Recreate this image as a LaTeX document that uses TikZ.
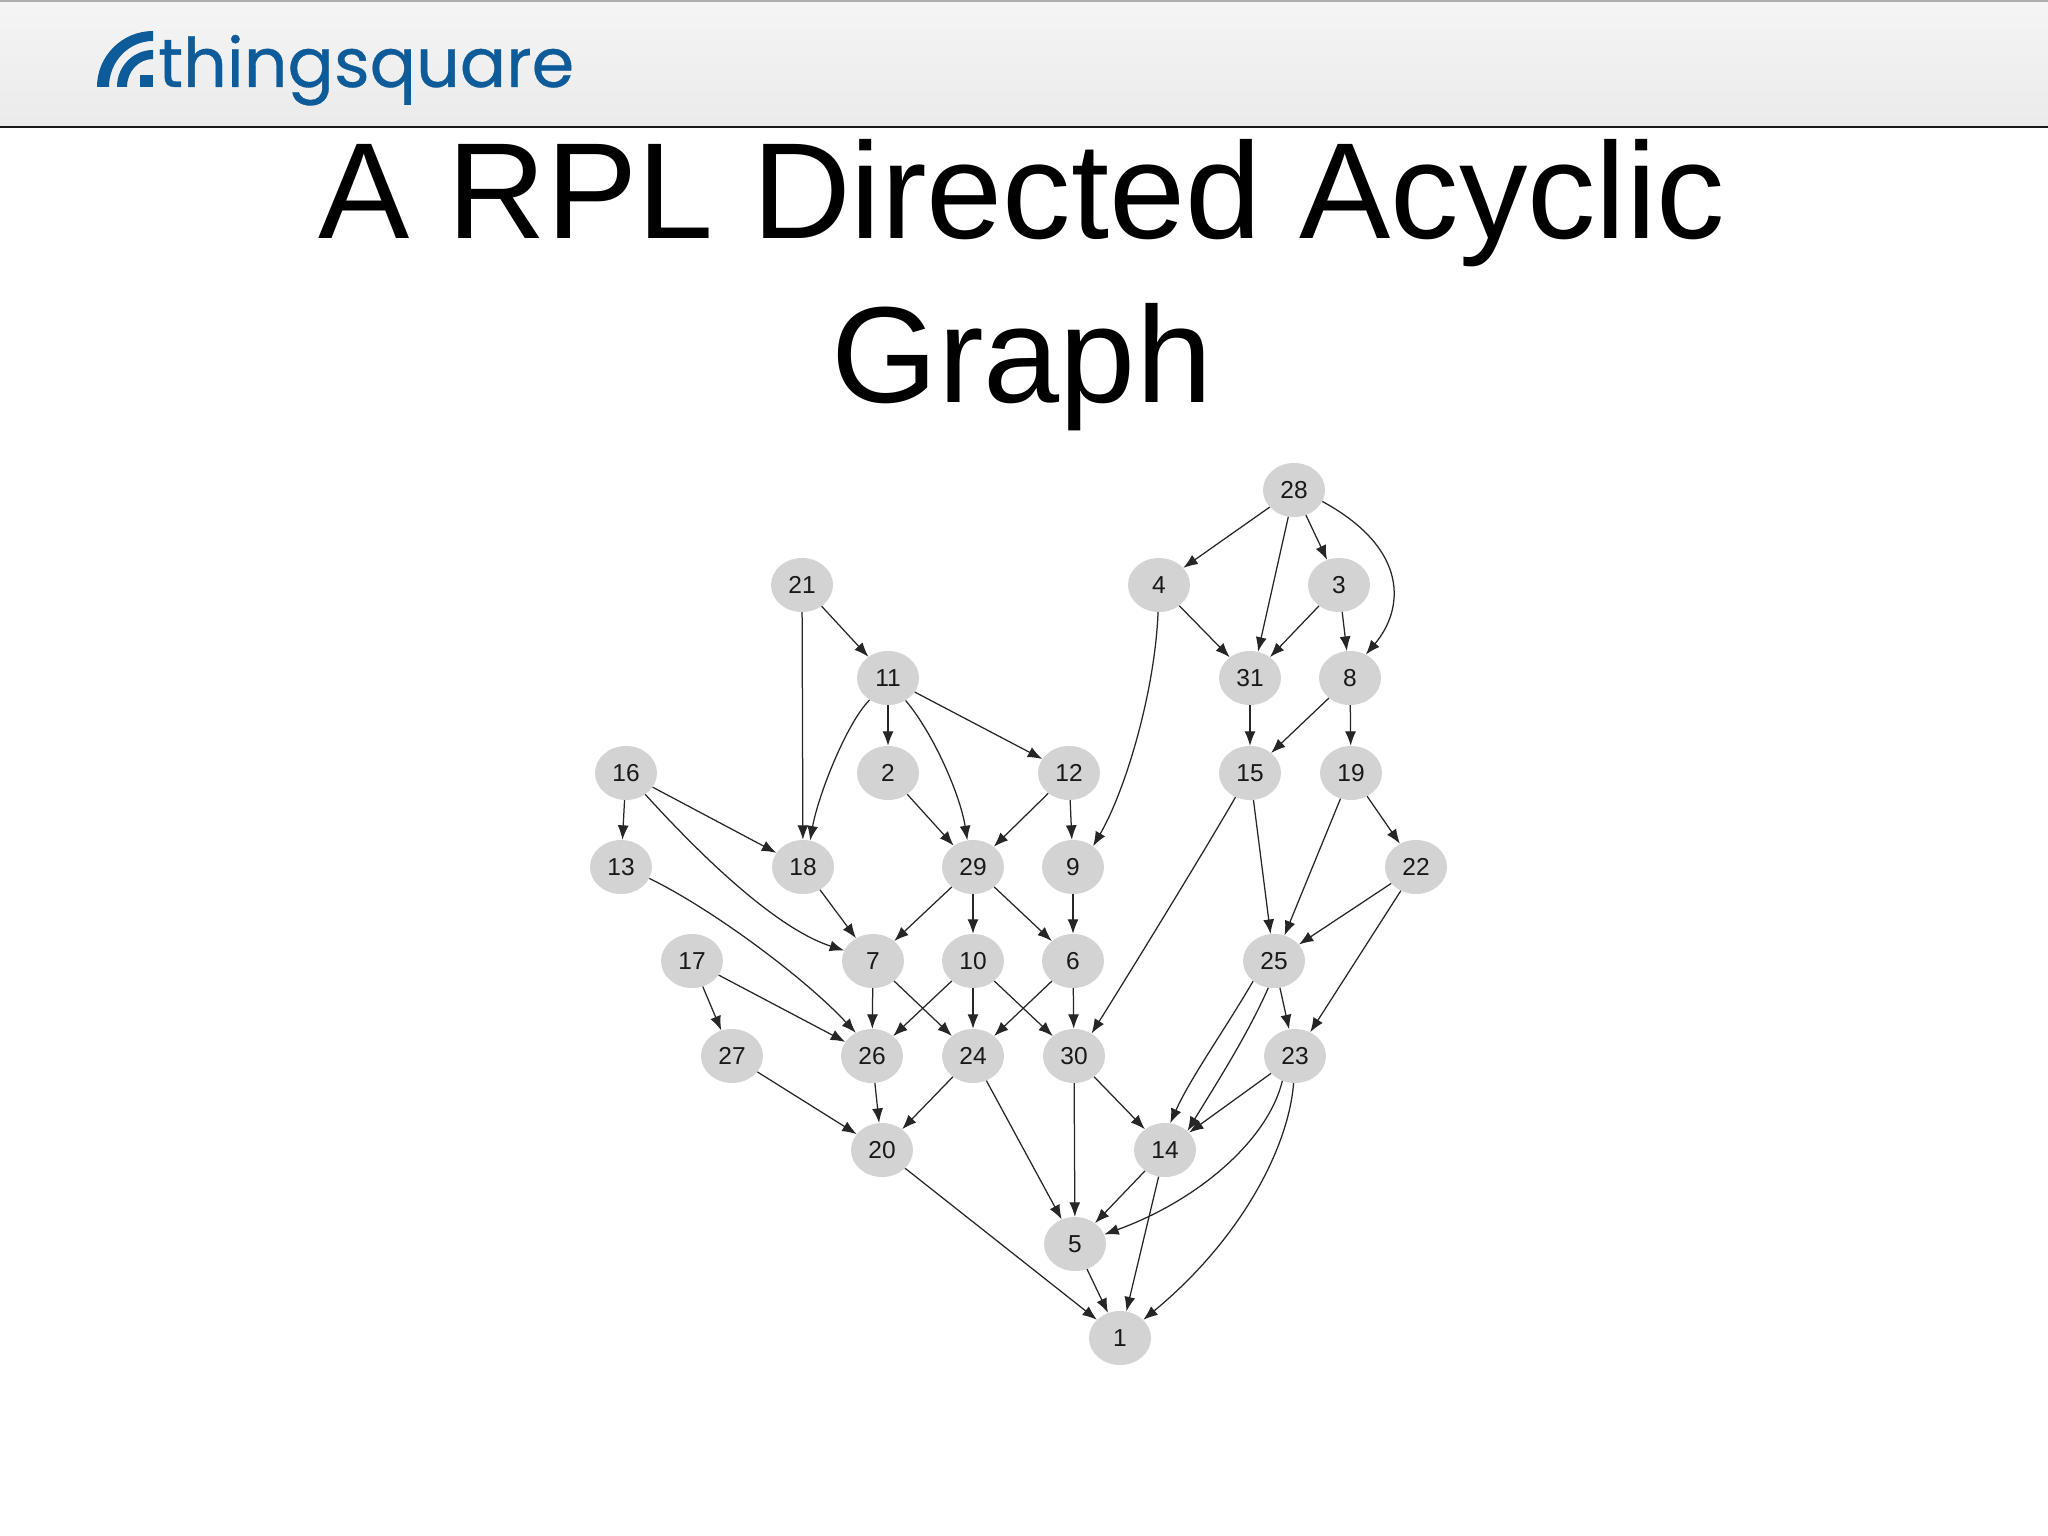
\documentclass[tikz,border=0pt]{standalone}
\usepackage{fontspec}
\setmainfont{Liberation Sans}
\newfontfamily\logofont[FakeBold=0.5]{Poppins}
\usetikzlibrary{arrows.meta,shapes.geometric}
\definecolor{nodegray}{HTML}{D3D3D3}
\definecolor{edgegray}{HTML}{262626}
\definecolor{logoblue}{HTML}{0D5B99}
\tikzset{
  gnode/.style={ellipse,fill=nodegray,minimum width=62pt,minimum height=54pt,inner sep=0pt,
    text=black!90,font=\fontsize{24.5}{24}\selectfont},
  gedge/.style={draw=edgegray,line width=1.25pt,-{Latex[length=14.5pt,width=11pt]}},
  titletext/.style={font=\fontsize{136.8}{163.5}\selectfont,align=center,text=black},
}
\begin{document}
\begin{tikzpicture}[x=1pt,y=-1pt]
\useasboundingbox (0,0) rectangle (2048,1536);
\fill[white] (0,0) rectangle (2048,1536);
\shade[top color=black!4,bottom color=black!8] (0,0) rectangle (2048,127);
\fill[black!32] (0,0) rectangle (2048,2);
\fill[black!90] (0,126) rectangle (2048,128);
% logo
\fill[logoblue] (97,87) arc[start angle=180,end angle=270,x radius=56,y radius=56]
  -- (153,41) arc[start angle=270,end angle=180,x radius=44,y radius=46] -- cycle;
\fill[logoblue] (117,87) arc[start angle=180,end angle=270,x radius=36,y radius=37]
  -- (153,59) arc[start angle=270,end angle=180,x radius=26,y radius=28] -- cycle;
\fill[logoblue] (140,75) rectangle (153,87);
\node[anchor=base west,inner sep=0pt,font=\logofont\fontsize{68.5}{70}\selectfont,text=logoblue] (logo) at (158,87) {thingsquare};
\node[titletext] (title) at (1022,285) {A RPL Directed Acyclic\\Graph};
% nodes
\foreach \n/\x/\y in {
28/1294/490, 21/802/585, 4/1159/585, 3/1339/585,
11/888/678, 31/1250/678, 8/1350/678,
16/626/773, 2/888/773, 12/1069/773, 15/1250/773, 19/1351/773,
13/621/867, 18/803/867, 29/973/867, 9/1073/867, 22/1416/867,
17/692/961, 7/873/961, 10/973/961, 6/1073/961, 25/1274/961,
27/732/1056, 26/872/1056, 24/973/1056, 30/1074/1056, 23/1295/1056,
20/882/1150, 14/1165/1150, 5/1075/1244, 1/1120/1338}
  {\node[gnode] (n\n) at (\x,\y) {\n};}
% straight edges
\foreach \a/\b in {
28/4, 28/3, 21/11, 21/18, 4/31, 3/31, 3/8,
11/2, 11/12, 31/15, 8/15, 8/19,
16/13, 16/18, 18/7, 2/29, 12/29, 12/9,
15/25, 19/25, 19/22, 22/25, 22/23,
29/7, 29/10, 29/6, 9/6,
17/27, 17/26, 7/26, 7/24, 10/26, 10/24, 10/30, 6/24, 6/30,
25/23, 23/14, 27/20, 26/20, 24/20, 24/5, 30/5, 30/14, 14/5, 14/1, 20/1, 5/1}
  {\draw[gedge] (n\a) -- (n\b);}
% edges that leave the centre line or curve
\draw[gedge] (n28.-102) -- (n31.73);
\draw[gedge] (n15.-121) .. controls +(-30,52) and +(42,-67) .. (n30.52);
\draw[gedge] (n28.-22) .. controls +(88,48) and +(38,-45) .. (n8.56);
\draw[gedge] (n4.-92) .. controls +(-3,78) and +(33,-57) .. (n9.46);
\draw[gedge] (n11.-130) .. controls +(-23,23) and +(8,-45) .. (n18.75);
\draw[gedge] (n11.-52) .. controls +(28,33) and +(-7,-45) .. (n29.102);
\draw[gedge] (n16.-48) .. controls +(50,55) and +(-71,-23) .. (n7.160);
\draw[gedge] (n13.-22) .. controls +(62,30) and +(-51,-55) .. (n26.125);
\draw[gedge] (n25.-136) .. controls +(-28,48) and +(20,-45) .. (n14.79);
\draw[gedge] (n25.-102) .. controls +(-22,50) and +(24,-40) .. (n14.40);
\draw[gedge] (n23.-117) .. controls +(-14,58) and +(96,-35) .. (n5.18);
\draw[gedge] (n23.-93) .. controls +(-5,65) and +(97,-80) .. (n1.38);
\end{tikzpicture}
\end{document}
